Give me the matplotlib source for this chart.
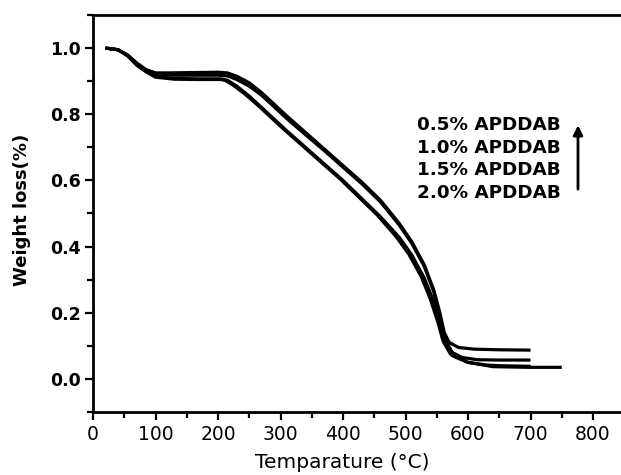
import matplotlib
matplotlib.use("Agg")
import matplotlib.pyplot as plt
from matplotlib.ticker import MultipleLocator

# ---- data ----
xA = [20, 40, 55, 70, 85, 100, 120, 160, 200, 215, 230, 250, 270, 290, 310, 340, 370, 400, 430, 460, 490, 510, 530, 545, 555, 562, 570, 585, 610, 650, 700]
yA = [1.0, 0.995, 0.98, 0.955, 0.935, 0.925, 0.925, 0.926, 0.927, 0.925, 0.915, 0.895, 0.865, 0.83, 0.795, 0.745, 0.695, 0.645, 0.595, 0.54, 0.47, 0.415, 0.345, 0.27, 0.2, 0.14, 0.11, 0.095, 0.09, 0.088, 0.087]

xB = [20, 40, 55, 70, 85, 100, 120, 160, 200, 215, 230, 250, 270, 290, 310, 340, 370, 400, 430, 460, 490, 510, 530, 545, 555, 563, 575, 590, 615, 650, 700]
yB = [1.0, 0.995, 0.978, 0.952, 0.932, 0.92, 0.918, 0.918, 0.918, 0.916, 0.905, 0.885, 0.857, 0.822, 0.787, 0.738, 0.69, 0.64, 0.59, 0.535, 0.465, 0.41, 0.34, 0.265, 0.19, 0.12, 0.08, 0.065, 0.058, 0.057, 0.057]

xC = [20, 40, 55, 70, 85, 100, 130, 170, 205, 215, 230, 250, 270, 290, 310, 340, 370, 400, 430, 460, 490, 510, 530, 545, 555, 562, 575, 600, 630, 650, 700]
yC = [1.0, 0.995, 0.978, 0.95, 0.93, 0.915, 0.908, 0.907, 0.907, 0.903, 0.885, 0.855, 0.82, 0.785, 0.75, 0.7, 0.65, 0.6, 0.545, 0.49, 0.428, 0.375, 0.305, 0.235, 0.165, 0.11, 0.07, 0.05, 0.042, 0.04, 0.038]

xD = [20, 40, 55, 70, 85, 100, 130, 170, 205, 212, 225, 245, 265, 285, 305, 335, 365, 395, 425, 455, 485, 505, 525, 540, 552, 560, 572, 600, 640, 700, 750]
yD = [1.0, 0.995, 0.977, 0.948, 0.928, 0.912, 0.906, 0.905, 0.905, 0.902, 0.887, 0.858, 0.825, 0.79, 0.755, 0.705, 0.655, 0.605, 0.55, 0.495, 0.43, 0.378, 0.31, 0.24, 0.17, 0.115, 0.075, 0.05, 0.037, 0.035, 0.035]

legend_labels = ["0.5% APDDAB", "1.0% APDDAB", "1.5% APDDAB", "2.0% APDDAB"]
xticks = [0, 100, 200, 300, 400, 500, 600, 700, 800]
yticks = [0.0, 0.2, 0.4, 0.6, 0.8, 1.0]

fig = plt.figure(figsize=(6.21, 4.75), dpi=100)
ax = fig.add_axes([93/621, 63/475, 537.5/621, 397/475])

for xs, ys in [(xA, yA), (xB, yB), (xC, yC), (xD, yD)]:
    ax.plot(xs, ys, color="black", lw=2.3, solid_capstyle="butt")

ax.set_xlim(0, 860)
ax.set_ylim(-0.1, 1.1)
ax.set_xticks(xticks)
ax.set_yticks(yticks)
ax.set_yticklabels([f"{v:.1f}" for v in yticks])
ax.xaxis.set_minor_locator(MultipleLocator(50))
ax.yaxis.set_minor_locator(MultipleLocator(0.1))
ax.tick_params(which="both", direction="out", width=1.6, colors="black")
ax.tick_params(which="major", length=6, pad=3)
ax.tick_params(which="minor", length=4)
ax.tick_params(axis="x", which="both", top=False)
ax.tick_params(axis="y", which="both", right=False)

for lab in ax.get_yticklabels():
    lab.set_fontfamily("DejaVu Sans")
    lab.set_fontweight("bold")
    lab.set_fontsize(12.5)
for lab in ax.get_xticklabels():
    lab.set_fontfamily("DejaVu Sans")
    lab.set_fontsize(13.5)

ax.spines["right"].set_visible(False)
for s in ["left", "bottom", "top"]:
    ax.spines[s].set_linewidth(2.0)

fig.text(22/621, 1 - 210/475, "Weight loss(%)", rotation=90, ha="center", va="center",
         fontfamily="DejaVu Sans", fontweight="bold", fontsize=13)
fig.text(342/621, 1 - 462/475, "Temparature (\u00b0C)", ha="center", va="center",
         fontfamily="DejaVu Sans", fontsize=14.5)

ys_leg = [0.768, 0.699, 0.63, 0.561]
for lbl, yy in zip(legend_labels, ys_leg):
    ax.text(518, yy, lbl, ha="left", va="center", fontfamily="DejaVu Sans",
            fontweight="bold", fontsize=13.2)

ax.annotate("", xy=(776, 0.775), xytext=(776, 0.565),
            arrowprops=dict(arrowstyle="-|>", color="black", lw=2.0, mutation_scale=14))

fig.savefig("out.png", dpi=100)
